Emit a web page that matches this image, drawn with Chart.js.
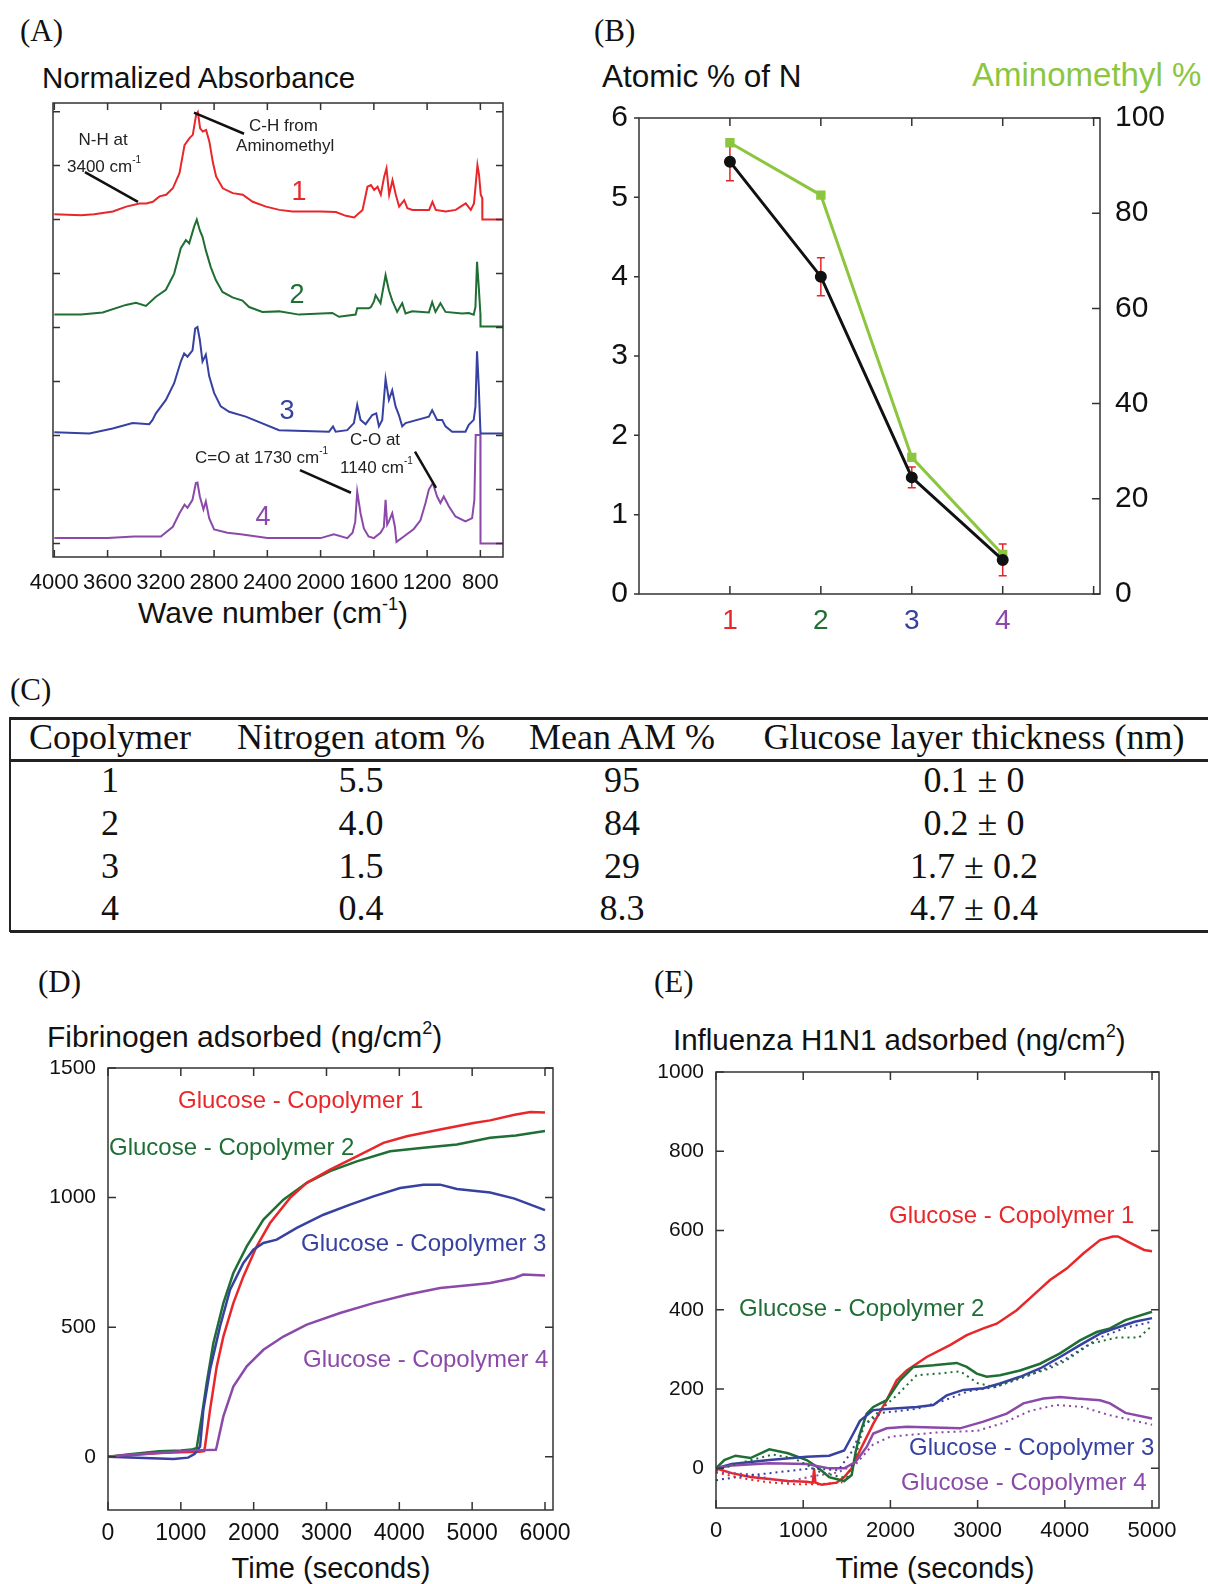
<!DOCTYPE html>
<html lang="en">
<head>
<meta charset="UTF-8">
<title>Copolymer characterisation</title>
<script src="https://cdn.jsdelivr.net/npm/chart.js"></script>
<style>
  * { box-sizing: border-box; }
  body {
    margin: 0; width: 1208px; height: 1584px;
    position: relative; overflow: hidden; background: #fff;
    font-family: "Liberation Sans", Arial, sans-serif; color: #111;
  }
  canvas { position: absolute; }
  .txt { position: absolute; white-space: nowrap; line-height: 1; }
  .panel { font-family: "Liberation Serif", serif; font-size: 31px; }
  .mid { transform: translateX(-50%); }
  sup { font-size: 0.6em; line-height: 0; vertical-align: 0.75em; }
  .rule { position: absolute; background: #222; }
  .cell {
    position: absolute; white-space: nowrap; line-height: 1;
    font-family: "Liberation Serif", serif; font-size: 36px;
    transform: translateX(-50%);
  }
</style>
</head>
<body>
  <div class="txt panel" style="left:20px;top:15px">(A)</div>
  <div class="txt panel" style="left:594px;top:15px">(B)</div>
  <div class="txt panel" style="left:10px;top:674px">(C)</div>
  <div class="txt panel" style="left:38px;top:966px">(D)</div>
  <div class="txt panel" style="left:654px;top:966px">(E)</div>

  <div class="txt" style="left:42px;top:63px;font-size:29.5px">Normalized Absorbance</div>
  <div class="txt mid" style="left:273px;top:598px;font-size:30px">Wave number (cm<sup>-1</sup>)</div>
  <div class="txt" style="left:602px;top:61px;font-size:31.5px">Atomic % of N</div>
  <div class="txt" style="left:972px;top:58px;font-size:33px;color:#8cc63f">Aminomethyl %</div>
  <div class="txt" style="left:47px;top:1022px;font-size:30px">Fibrinogen adsorbed (ng/cm<sup>2</sup>)</div>
  <div class="txt" style="left:673px;top:1025px;font-size:29.5px">Influenza H1N1 adsorbed (ng/cm<sup>2</sup>)</div>
  <div class="txt mid" style="left:331px;top:1554px;font-size:29px">Time (seconds)</div>
  <div class="txt mid" style="left:935px;top:1554px;font-size:29px">Time (seconds)</div>

  <canvas id="chartA" width="560" height="520" style="left:0;top:90px"></canvas>
  <canvas id="chartB" width="618" height="545" style="left:590px;top:95px"></canvas>
  <div id="table"></div>
  <canvas id="chartD" width="600" height="534" style="left:0;top:1050px"></canvas>
  <canvas id="chartE" width="598" height="534" style="left:610px;top:1050px"></canvas>

<script>
// ---- (A) FTIR spectra: [wave number, normalized absorbance (offset)] ----
const spectrum1 = [[4000,6.10],[3900,6.09],[3800,6.08],[3700,6.10],[3560,6.15],[3460,6.24],[3360,6.30],[3310,6.30],[3260,6.33],[3210,6.43],[3160,6.46],[3110,6.58],[3060,6.86],[3022,7.38],[2985,7.51],[2960,7.57],[2935,7.94],[2922,7.99],[2905,7.69],[2885,7.63],[2860,7.66],[2835,7.44],[2810,7.07],[2785,6.80],[2735,6.58],[2660,6.49],[2585,6.46],[2510,6.33],[2410,6.24],[2310,6.18],[2210,6.15],[2000,6.15],[1885,6.14],[1810,6.07],[1748,6.04],[1685,6.18],[1648,6.61],[1622,6.64],[1598,6.55],[1572,6.61],[1548,6.46],[1522,6.80],[1505,6.95],[1485,6.46],[1460,6.73],[1435,6.46],[1410,6.24],[1372,6.36],[1348,6.21],[1310,6.18],[1185,6.18],[1160,6.33],[1135,6.18],[1060,6.15],[985,6.18],[910,6.30],[872,6.18],[848,6.30],[822,7.01],[810,6.83],[797,6.46],[786,6.40],[785,6.00],[630,6.00]];
const spectrum2 = [[4000,4.24],[3800,4.24],[3637,4.28],[3462,4.42],[3387,4.46],[3312,4.40],[3237,4.57],[3162,4.70],[3100,5.00],[3050,5.47],[3012,5.62],[2987,5.56],[2950,5.87],[2930,6.00],[2907,5.80],[2887,5.68],[2862,5.43],[2825,5.12],[2787,4.88],[2737,4.66],[2662,4.56],[2587,4.50],[2537,4.38],[2437,4.29],[2312,4.30],[2162,4.24],[1912,4.27],[1862,4.20],[1737,4.24],[1725,4.36],[1637,4.36],[1622,4.38],[1600,4.48],[1587,4.60],[1550,4.45],[1512,4.97],[1487,4.69],[1462,4.50],[1425,4.29],[1387,4.45],[1362,4.26],[1312,4.30],[1187,4.28],[1162,4.47],[1137,4.29],[1100,4.45],[1062,4.29],[937,4.26],[887,4.27],[850,4.24],[837,4.38],[825,5.22],[812,4.75],[800,4.26],[799,4.02],[630,4.02]];
const spectrum3 = [[4000,2.06],[3737,2.04],[3562,2.13],[3412,2.23],[3287,2.21],[3262,2.29],[3237,2.41],[3162,2.66],[3100,2.97],[3050,3.37],[3025,3.52],[3000,3.46],[2962,3.58],[2942,3.98],[2925,4.01],[2907,3.77],[2887,3.37],[2862,3.50],[2837,3.10],[2800,2.79],[2750,2.54],[2687,2.44],[2562,2.35],[2312,2.10],[1937,2.07],[1907,2.17],[1887,2.07],[1800,2.10],[1750,2.23],[1725,2.57],[1700,2.29],[1662,2.21],[1612,2.38],[1582,2.41],[1562,2.17],[1537,2.29],[1512,3.05],[1487,2.66],[1462,2.84],[1437,2.54],[1412,2.38],[1387,2.17],[1362,2.23],[1187,2.35],[1162,2.47],[1125,2.29],[1087,2.29],[1062,2.17],[1012,2.07],[912,2.07],[887,2.20],[850,2.29],[837,2.54],[825,3.56],[812,2.91],[800,2.10],[799,2.04],[630,2.04]];
const spectrum4 = [[4000,0.10],[3600,0.10],[3400,0.13],[3200,0.13],[3110,0.31],[3060,0.56],[3022,0.72],[3000,0.66],[2962,0.81],[2937,1.12],[2925,1.13],[2907,0.87],[2880,0.63],[2862,0.78],[2837,0.47],[2800,0.26],[2700,0.20],[2600,0.17],[2400,0.10],[2000,0.10],[1900,0.17],[1800,0.10],[1760,0.20],[1740,0.40],[1725,0.96],[1700,0.56],[1675,0.28],[1640,0.13],[1600,0.10],[1550,0.20],[1525,0.30],[1512,0.81],[1500,0.35],[1487,0.41],[1462,0.56],[1442,0.31],[1430,0.03],[1375,0.13],[1300,0.27],[1250,0.43],[1212,0.75],[1187,1.00],[1157,1.12],[1125,0.87],[1100,0.75],[1075,0.87],[1037,0.69],[987,0.50],[912,0.41],[862,0.47],[845,0.81],[835,2.01],[800,2.01],[799,0.00],[630,0.00]];
const specXTicks = [4000, 3600, 3200, 2800, 2400, 2000, 1600, 1200, 800];
const specYTicks = [0, 1, 2, 3, 4, 5, 6, 7, 8];

// ---- (B) composition ----
const copolymers = [1, 2, 3, 4];
const nitrogenPct = [5.45, 4.0, 1.47, 0.43];
const nitrogenErr = [0.24, 0.24, 0.13, 0.20];
const aminomethylPct = [94.8, 83.8, 28.7, 8.3];
const compXTicks = [1, 2, 3, 4, 5];
const nitrogenTicks = [0, 1, 2, 3, 4, 5, 6];
const aminoTicks = [0, 20, 40, 60, 80, 100];

// ---- (C) table ----
const tableHeader = ['Copolymer', 'Nitrogen atom %', 'Mean AM %', 'Glucose layer thickness (nm)'];
const tableRows = [
  ['1', '5.5', '95', '0.1 ± 0'],
  ['2', '4.0', '84', '0.2 ± 0'],
  ['3', '1.5', '29', '1.7 ± 0.2'],
  ['4', '0.4', '8.3', '4.7 ± 0.4']
];

// ---- (D) fibrinogen adsorbed: [time s, ng/cm2] ----
const fibCop1 = [[0,0],[300,6],[700,15],[1000,18],[1250,20],[1320,22],[1332,40],[1401,181],[1493,349],[1584,464],[1721,593],[1859,696],[2042,812],[2225,902],[2500,999],[2729,1057],[3049,1108],[3416,1159],[3782,1211],[4103,1237],[4560,1263],[5018,1288],[5247,1298],[5582,1320],[5800,1330],[6000,1328]];
const fibCop2 = [[0,0],[300,10],[700,22],[1000,25],[1150,28],[1218,34],[1287,156],[1355,285],[1447,439],[1584,593],[1721,709],[1905,812],[2134,915],[2408,992],[2729,1057],[3049,1102],[3416,1140],[3874,1179],[4332,1192],[4790,1205],[5247,1231],[5600,1240],[6000,1257]];
const fibCop3 = [[0,0],[400,-3],[900,-8],[1100,-3],[1192,12],[1264,40],[1309,181],[1401,336],[1538,503],[1676,645],[1859,748],[1996,799],[2134,825],[2317,838],[2592,883],[2958,934],[3324,973],[3645,1005],[4011,1037],[4332,1050],[4560,1050],[4790,1033],[5247,1020],[5582,996],[6000,952]];
const fibCop4 = [[0,0],[300,8],[700,15],[1000,22],[1200,25],[1480,27],[1493,40],[1584,156],[1721,271],[1905,349],[2134,413],[2408,464],[2729,510],[3187,555],[3645,593],[4103,625],[4560,651],[5018,664],[5247,671],[5582,690],[5700,703],[6000,700]];
const fibXTicks = [0, 1000, 2000, 3000, 4000, 5000, 6000];
const fibYTicks = [0, 500, 1000, 1500];

// ---- (E) influenza H1N1 adsorbed: [time s, ng/cm2] ----
const fluCop1 = [[0,0],[181,-12],[396,-22],[611,-27],[826,-32],[1040,-34],[1110,-36],[1125,-2],[1140,-36],[1212,-41],[1384,-36],[1470,-22],[1556,0],[1651,45],[1804,113],[1957,172],[2072,222],[2187,247],[2416,281],[2683,311],[2875,336],[3066,353],[3219,365],[3448,399],[3639,437],[3830,475],[4021,504],[4212,542],[4404,576],[4550,585],[4609,585],[4738,570],[4910,551],[5000,548]];
const fluCop1Rep = [[0,-10],[300,-25],[600,-35],[900,-40],[1200,-40],[1450,-35]];
const fluCop2 = [[0,0],[95,21],[224,32],[396,26],[611,48],[826,38],[1040,21],[1169,2],[1298,-22],[1470,-32],[1556,-17],[1600,40],[1651,88],[1728,138],[1804,155],[1957,172],[2110,222],[2263,256],[2492,260],[2760,266],[2875,256],[2990,239],[3104,231],[3257,235],[3486,247],[3716,264],[3945,290],[4174,323],[4365,344],[4518,353],[4695,374],[5000,395]];
const fluCop2Rep = [[0,-5],[300,15],[650,35],[900,25],[1200,-10],[1500,-25],[1600,30],[1700,110],[1900,150],[2100,190],[2300,235],[2600,240],[2800,245],[3000,215],[3200,205],[3500,230],[3800,250],[4000,270],[4300,315],[4600,330],[4850,330],[5000,360]];
const fluCop3 = [[0,0],[181,11],[611,21],[1040,29],[1298,32],[1470,45],[1575,88],[1651,120],[1804,147],[1957,150],[2301,155],[2492,160],[2645,184],[2836,198],[3066,202],[3257,214],[3486,231],[3716,252],[3945,281],[4174,311],[4404,340],[4518,349],[4800,370],[5000,379]];
const fluCop3Rep = [[0,-30],[300,-20],[700,-10],[1100,0],[1400,-5],[1550,40],[1700,110],[1900,140],[2300,150],[2600,170],[2900,195],[3200,205],[3600,235],[4000,275],[4400,330],[4700,355],[5000,370]];
const fluCop4 = [[0,0],[181,7],[611,13],[1040,11],[1298,0],[1470,0],[1599,16],[1728,54],[1804,88],[1957,101],[2187,105],[2492,103],[2798,101],[3066,118],[3334,138],[3525,164],[3754,176],[3945,180],[4136,176],[4404,172],[4518,164],[4695,140],[5000,126]];
const fluCop4Rep = [[0,-10],[400,-15],[800,-35],[1100,-20],[1400,-10],[1600,10],[1800,60],[2000,80],[2500,90],[3000,95],[3300,115],[3600,145],[3900,160],[4200,155],[4500,135],[4800,120],[5000,110]];
const fluXTicks = [0, 1000, 2000, 3000, 4000, 5000];
const fluYTicks = [0, 200, 400, 600, 800, 1000];

const RED = '#e8272a', GREEN = '#1f6e34', BLUE = '#3641a0', PURPLE = '#8b4aa9', LIME = '#8cc63f';
const SANS = '"Liberation Sans", Arial, sans-serif';

Chart.defaults.font.family = SANS;
Chart.defaults.color = '#111';

// each axis gets a fixed band (its labels are clipped to it)
function fixAxis(size) {
  return s => {
    if (s.isHorizontal()) s.height = size; else s.width = size;
    s.paddingLeft = 0; s.paddingRight = 0; s.paddingTop = 0; s.paddingBottom = 0;
  };
}
function useTicks(values) {
  return s => { s.ticks = values.map(v => ({ value: v })); };
}
function axis(min, max, tickVals, size, extra) {
  return Object.assign({
    type: 'linear', min, max,
    afterBuildTicks: useTicks(tickVals),
    afterFit: fixAxis(size),
    grid: { display: false, drawTicks: false },
    border: { display: false }
  }, extra);
}
function tickFont(size, padding, more) {
  return Object.assign({
    autoSkip: false, maxRotation: 0, padding,
    font: { size }, color: '#111',
    callback: v => String(v)
  }, more);
}
function line(points, color, width, dash) {
  return {
    data: points.map(([x, y]) => ({ x, y })),
    borderColor: color, borderWidth: width, borderDash: dash || [],
    pointRadius: 0, fill: false, tension: 0
  };
}

// plot frame with tick marks (inward, or outward for 'leftOut')
const framePlugin = {
  id: 'frame',
  afterDatasetsDraw(chart, args, o) {
    const { ctx, chartArea: a } = chart;
    ctx.save();
    ctx.strokeStyle = '#333';
    ctx.lineWidth = 1.5;
    ctx.strokeRect(a.left, a.top, a.right - a.left, a.bottom - a.top);
    const L = o.len || 8;
    ctx.beginPath();
    (o.sides || []).forEach(([id, side]) => {
      const s = chart.scales[id];
      s.ticks.forEach(t => {
        const p = s.getPixelForValue(t.value);
        if (side === 'bottom') { ctx.moveTo(p, a.bottom); ctx.lineTo(p, a.bottom - L); }
        if (side === 'top') { ctx.moveTo(p, a.top); ctx.lineTo(p, a.top + L); }
        if (side === 'left') { ctx.moveTo(a.left, p); ctx.lineTo(a.left + L, p); }
        if (side === 'leftOut') { ctx.moveTo(a.left, p); ctx.lineTo(a.left - 5, p); }
        if (side === 'right') { ctx.moveTo(a.right, p); ctx.lineTo(a.right - L, p); }
      });
    });
    ctx.stroke();
    ctx.restore();
  }
};

// text labels and leader lines placed in data coordinates
const notesPlugin = {
  id: 'notes',
  afterDatasetsDraw(chart, args, o) {
    const { ctx, scales: { x, y } } = chart;
    ctx.save();
    (o.lines || []).forEach(l => {
      ctx.strokeStyle = '#111';
      ctx.lineWidth = 2.5;
      ctx.beginPath();
      ctx.moveTo(x.getPixelForValue(l[0]), y.getPixelForValue(l[1]));
      ctx.lineTo(x.getPixelForValue(l[2]), y.getPixelForValue(l[3]));
      ctx.stroke();
    });
    (o.texts || []).forEach(t => {
      const size = t.size;
      ctx.textBaseline = 'middle';
      ctx.textAlign = 'left';
      ctx.font = size + 'px ' + SANS;
      const w = ctx.measureText(t.text).width;
      let sw = 0;
      if (t.sup) {
        ctx.font = Math.round(size * 0.6) + 'px ' + SANS;
        sw = ctx.measureText(t.sup).width;
      }
      let px = x.getPixelForValue(t.x);
      const py = y.getPixelForValue(t.y);
      if (t.center) px -= (w + sw) / 2;
      ctx.fillStyle = t.color || '#222';
      ctx.font = size + 'px ' + SANS;
      ctx.fillText(t.text, px, py);
      if (t.sup) {
        ctx.font = Math.round(size * 0.6) + 'px ' + SANS;
        ctx.fillText(t.sup, px + w, py - size * 0.42);
      }
    });
    ctx.restore();
  }
};

// error bars for panel B
const errorBarPlugin = {
  id: 'errbars',
  beforeDatasetsDraw(chart) {
    const { ctx, scales: { x, y } } = chart;
    ctx.save();
    ctx.strokeStyle = '#e0262a';
    ctx.lineWidth = 1.5;
    ctx.beginPath();
    copolymers.forEach((c, i) => {
      const px = x.getPixelForValue(c);
      const y1 = y.getPixelForValue(nitrogenPct[i] - nitrogenErr[i]);
      const y2 = y.getPixelForValue(nitrogenPct[i] + nitrogenErr[i]);
      ctx.moveTo(px, y1); ctx.lineTo(px, y2);
      ctx.moveTo(px - 4, y1); ctx.lineTo(px + 4, y1);
      ctx.moveTo(px - 4, y2); ctx.lineTo(px + 4, y2);
    });
    ctx.stroke();
    ctx.restore();
  }
};

const base = {
  responsive: false, animation: false, devicePixelRatio: 1,
  events: []
};

// (A)
new Chart(document.getElementById('chartA'), {
  type: 'line',
  data: { datasets: [
    line(spectrum1, RED, 2), line(spectrum2, GREEN, 2),
    line(spectrum3, BLUE, 2), line(spectrum4, PURPLE, 2)
  ] },
  options: Object.assign({}, base, {
    layout: { padding: { left: 53, top: 13, right: 57, bottom: 0 } },
    plugins: {
      legend: { display: false }, tooltip: { enabled: false },
      frame: { sides: [['x', 'bottom'], ['x', 'top'], ['y', 'left'], ['y', 'right']], len: 7 },
      notes: {
        lines: [[3770, 6.88, 3372, 6.33], [2951, 7.98, 2575, 7.59], [2155, 1.36, 1772, 0.94], [1291, 1.70, 1133, 1.03]],
        texts: [
          { x: 3634, y: 7.47, text: 'N-H at', size: 17, center: true },
          { x: 3905, y: 6.97, text: '3400 cm', sup: '-1', size: 17 },
          { x: 2538, y: 7.73, text: 'C-H from', size: 17 },
          { x: 2635, y: 7.35, text: 'Aminomethyl', size: 17 },
          { x: 2944, y: 1.57, text: 'C=O at 1730 cm', sup: '-1', size: 17 },
          { x: 1779, y: 1.92, text: 'C-O at', size: 17 },
          { x: 1854, y: 1.40, text: '1140 cm', sup: '-1', size: 17 },
          { x: 2162, y: 6.51, text: '1', size: 27, center: true, color: RED },
          { x: 2177, y: 4.59, text: '2', size: 27, center: true, color: GREEN },
          { x: 2252, y: 2.45, text: '3', size: 27, center: true, color: BLUE },
          { x: 2433, y: 0.49, text: '4', size: 27, center: true, color: PURPLE }
        ]
      }
    },
    scales: {
      x: axis(630, 4010, specXTicks, 53, { reverse: true, ticks: tickFont(22, 13) }),
      y: axis(-0.25, 8.16, specYTicks, 0, { ticks: { display: false } })
    }
  }),
  plugins: [framePlugin, notesPlugin]
});

// (B)
const bTickColors = [RED, GREEN, BLUE, PURPLE, '#111'];
new Chart(document.getElementById('chartB'), {
  type: 'line',
  data: { datasets: [
    {
      data: copolymers.map((c, i) => ({ x: c, y: nitrogenPct[i] })),
      borderColor: '#111', backgroundColor: '#111', borderWidth: 3,
      pointRadius: 4.5, pointBackgroundColor: '#111', yAxisID: 'y'
    },
    {
      data: copolymers.map((c, i) => ({ x: c, y: aminomethylPct[i] })),
      borderColor: LIME, backgroundColor: LIME, borderWidth: 3,
      pointStyle: 'rect', pointRadius: 4.5, pointBackgroundColor: LIME, yAxisID: 'y1'
    }
  ] },
  options: Object.assign({}, base, {
    layout: { padding: { left: 0, top: 23, right: 0, bottom: 0 } },
    plugins: {
      legend: { display: false }, tooltip: { enabled: false },
      frame: { sides: [['x', 'bottom'], ['x', 'top'], ['y1', 'right'], ['y', 'leftOut']], len: 8 }
    },
    scales: {
      x: axis(0, 5.07, compXTicks, 46, {
        ticks: tickFont(28, 10, {
          callback: v => (v <= 4 ? String(v) : ''),
          color: ctx => bTickColors[ctx.index]
        })
      }),
      y: axis(0, 6, nitrogenTicks, 49, { position: 'left', ticks: tickFont(30, 11) }),
      y1: axis(0, 100, aminoTicks, 108, { position: 'right', ticks: tickFont(30, 15) })
    }
  }),
  plugins: [errorBarPlugin, framePlugin]
});

// (C)
(function buildTable() {
  const host = document.getElementById('table');
  const colX = [110, 361, 622, 974];
  const rowY = [780, 823, 866, 908];
  const rules = [
    { left: 10, top: 717, width: 1210, height: 2.5 },
    { left: 10, top: 759, width: 1210, height: 2.5 },
    { left: 10, top: 930, width: 1210, height: 2.5 },
    { left: 9, top: 717, width: 1.5, height: 215 }
  ];
  rules.forEach(r => {
    const d = document.createElement('div');
    d.className = 'rule';
    Object.assign(d.style, { left: r.left + 'px', top: r.top + 'px', width: r.width + 'px', height: r.height + 'px' });
    host.appendChild(d);
  });
  const put = (text, cx, cy) => {
    const d = document.createElement('div');
    d.className = 'cell';
    d.textContent = text;
    d.style.left = cx + 'px';
    d.style.top = (cy - 18) + 'px';
    host.appendChild(d);
  };
  tableHeader.forEach((h, j) => put(h, colX[j], 737));
  tableRows.forEach((row, i) => row.forEach((v, j) => put(v, colX[j], rowY[i])));
})();

// (D)
new Chart(document.getElementById('chartD'), {
  type: 'line',
  data: { datasets: [
    line(fibCop4, PURPLE, 2.5), line(fibCop3, BLUE, 2.5),
    line(fibCop1, RED, 2.5), line(fibCop2, GREEN, 2.5)
  ] },
  options: Object.assign({}, base, {
    layout: { padding: { left: 0, top: 18, right: 47, bottom: 0 } },
    plugins: {
      legend: { display: false }, tooltip: { enabled: false },
      frame: { sides: [['x', 'bottom'], ['x', 'top'], ['y', 'left'], ['y', 'right']], len: 8 },
      notes: {
        texts: [
          { x: 961, y: 1373, text: 'Glucose - Copolymer 1', size: 24, color: RED },
          { x: 14, y: 1191, text: 'Glucose - Copolymer 2', size: 24, color: GREEN },
          { x: 2650, y: 821, text: 'Glucose - Copolymer 3', size: 24, color: BLUE },
          { x: 2677, y: 374, text: 'Glucose - Copolymer 4', size: 24, color: PURPLE }
        ]
      }
    },
    scales: {
      x: axis(0, 6110, fibXTicks, 74, { ticks: tickFont(23, 10) }),
      y: axis(-205, 1500, fibYTicks, 108, { ticks: tickFont(21, 12) })
    }
  }),
  plugins: [framePlugin, notesPlugin]
});

// (E)
const dots = [2, 4];
new Chart(document.getElementById('chartE'), {
  type: 'line',
  data: { datasets: [
    line(fluCop1Rep, RED, 2, dots), line(fluCop2Rep, GREEN, 2, dots),
    line(fluCop3Rep, BLUE, 2, dots), line(fluCop4Rep, PURPLE, 2, dots),
    line(fluCop4, PURPLE, 2.5), line(fluCop3, BLUE, 2.5),
    line(fluCop2, GREEN, 2.5), line(fluCop1, RED, 2.5)
  ] },
  options: Object.assign({}, base, {
    layout: { padding: { left: 0, top: 22, right: 49, bottom: 0 } },
    plugins: {
      legend: { display: false }, tooltip: { enabled: false },
      frame: { sides: [['x', 'bottom'], ['x', 'top'], ['y', 'left'], ['y', 'right']], len: 8 },
      notes: {
        texts: [
          { x: 1984, y: 637, text: 'Glucose - Copolymer 1', size: 24, color: RED },
          { x: 264, y: 400, text: 'Glucose - Copolymer 2', size: 24, color: GREEN },
          { x: 2213, y: 51, text: 'Glucose - Copolymer 3', size: 24, color: BLUE },
          { x: 2122, y: -37, text: 'Glucose - Copolymer 4', size: 24, color: PURPLE }
        ]
      }
    },
    scales: {
      x: axis(0, 5080, fluXTicks, 76, { ticks: tickFont(22, 10) }),
      y: axis(-100, 1000, fluYTicks, 106, { ticks: tickFont(21, 12) })
    }
  }),
  plugins: [framePlugin, notesPlugin]
});
</script>
</body>
</html>
